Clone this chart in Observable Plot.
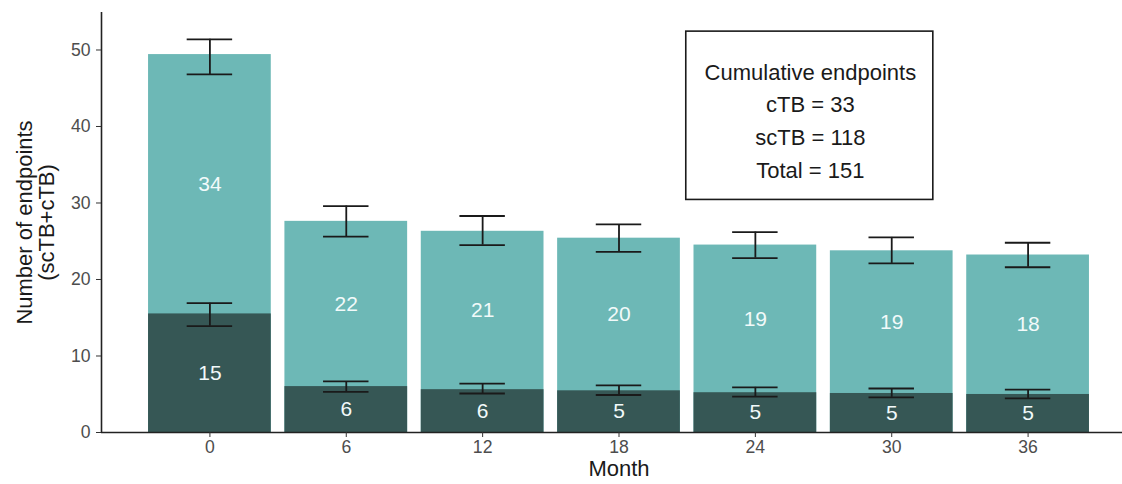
<!DOCTYPE html>
<html>
<head>
<meta charset="utf-8">
<script src="https://cdn.jsdelivr.net/npm/d3@7"></script>
<script src="https://cdn.jsdelivr.net/npm/@observablehq/plot@0.6"></script>
<style>
  html, body { margin: 0; padding: 0; background: white; }
  #chart svg { display: block; }
</style>
</head>
<body>
<div id="chart"></div>
<script>
// ---- Data ----
const months = [0, 6, 12, 18, 24, 30, 36];
const cTB = [15.5, 6.0, 5.6, 5.45, 5.2, 5.1, 4.97];
const cTBLow = [13.9, 5.3, 5.1, 4.9, 4.7, 4.6, 4.45];
const cTBHigh = [16.9, 6.67, 6.4, 6.15, 5.9, 5.75, 5.6];
const total = [49.4, 27.6, 26.3, 25.4, 24.5, 23.75, 23.2];
const totalLow = [46.8, 25.6, 24.5, 23.6, 22.8, 22.1, 21.6];
const totalHigh = [51.4, 29.6, 28.3, 27.2, 26.2, 25.5, 24.8];
const cTBLabels = [15, 6, 6, 5, 5, 5, 5];
const scTBLabels = [34, 22, 21, 20, 19, 19, 18];
const yTicks = [0, 10, 20, 30, 40, 50];
const annotationLines = ["Cumulative endpoints", "cTB = 33", "scTB = 118", "Total = 151"];
const xTitle = "Month";
const yTitle = "Number of endpoints\n(scTB+cTB)";

// ---- Build table ----
const rows = months.map((m, i) => ({
  month: m,
  cTB: cTB[i], cTBLow: cTBLow[i], cTBHigh: cTBHigh[i],
  total: total[i], totalLow: totalLow[i], totalHigh: totalHigh[i],
  cTBLabel: cTBLabels[i], scTBLabel: scTBLabels[i]
}));

const light = "#6db8b6";
const dark = "#365755";
const ink = "#1a1a1a";
const grey = "#4d4d4d";
const font = "'Liberation Sans', Arial, 'DejaVu Sans', sans-serif";

const half = 2.7;      // bar half-width in months (0.9 * 6 / 2)
const capHalf = 1;     // error bar cap half-width
const lo = d3.min(months) - half, hi = d3.max(months) + half, pad = (hi - lo) * 0.05;
const xDomain = [lo - pad, hi + pad];

const chart = Plot.plot({
  width: 1122,
  height: 484,
  marginLeft: 101,
  marginRight: 0,
  marginTop: 12,
  marginBottom: 52,
  style: { fontFamily: font, background: "white", overflow: "hidden" },
  x: { domain: xDomain, range: [101, 1136] },
  y: { domain: [0, 54.9] },
  marks: [
    Plot.rectY(rows, { x1: d => d.month - half, x2: d => d.month + half, y1: 0, y2: "total", fill: light }),
    Plot.rectY(rows, { x1: d => d.month - half, x2: d => d.month + half, y1: 0, y2: "cTB", fill: dark }),
    // error bars: total
    Plot.ruleX(rows, { x: "month", y1: "totalLow", y2: "totalHigh", stroke: ink, strokeWidth: 1.8 }),
    Plot.ruleY(rows, { y: "totalLow", x1: d => d.month - capHalf, x2: d => d.month + capHalf, stroke: ink, strokeWidth: 1.8 }),
    Plot.ruleY(rows, { y: "totalHigh", x1: d => d.month - capHalf, x2: d => d.month + capHalf, stroke: ink, strokeWidth: 1.8 }),
    // error bars: cTB
    Plot.ruleX(rows, { x: "month", y1: "cTBLow", y2: "cTBHigh", stroke: ink, strokeWidth: 1.8 }),
    Plot.ruleY(rows, { y: "cTBLow", x1: d => d.month - capHalf, x2: d => d.month + capHalf, stroke: ink, strokeWidth: 1.8 }),
    Plot.ruleY(rows, { y: "cTBHigh", x1: d => d.month - capHalf, x2: d => d.month + capHalf, stroke: ink, strokeWidth: 1.8 }),
    // segment labels
    Plot.text(rows, { x: "month", y: d => d.cTB / 2, text: "cTBLabel", fill: "#f2fafa", fontSize: 21 }),
    Plot.text(rows, { x: "month", y: d => (d.cTB + d.total) / 2, text: "scTBLabel", fill: "#f2fafa", fontSize: 21 }),
    // axes lines
    Plot.ruleY([0], { stroke: "#222", strokeWidth: 1.6 }),
    Plot.ruleX([xDomain[0]], { stroke: "#222", strokeWidth: 1.6 }),
    // axes
    Plot.axisX({ ticks: months, tickSize: 5, tickPadding: 3, fontSize: 17.6, stroke: "#333", fill: grey, label: null }),
    Plot.axisY({ ticks: yTicks, tickSize: 5, tickPadding: 6, fontSize: 17.6, stroke: "#333", fill: grey, label: null }),
    // axis titles
    Plot.text([xTitle], { x: (xDomain[0] + xDomain[1]) / 2, frameAnchor: "bottom", lineAnchor: "middle", dy: 36, fontSize: 22, fill: ink }),
    Plot.text([yTitle], { frameAnchor: "left", textAnchor: "middle", lineAnchor: "middle", dx: -66, rotate: -90, fontSize: 22, lineHeight: 1.0, fill: ink }),
    // annotation box
    Plot.rect([0], { x1: 20.96, x2: 31.83, y1: 30.4, y2: 52.4, fill: "white", stroke: ink, strokeWidth: 1.6 }),
    Plot.text([annotationLines.join("\n")], { x: 26.42, y: 41.1, fontSize: 22, lineHeight: 1.486, fill: ink })
  ]
});

document.getElementById("chart").appendChild(chart);
</script>
</body>
</html>
